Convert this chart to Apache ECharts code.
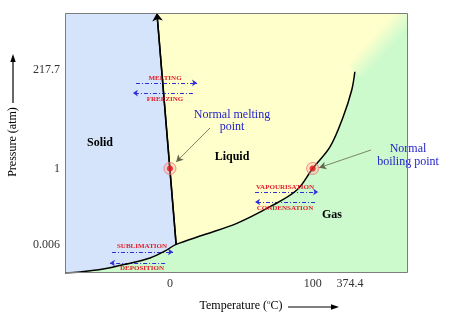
<!DOCTYPE html>
<html>
<head>
<meta charset="utf-8">
<script src="https://cdn.jsdelivr.net/npm/echarts@6/dist/echarts.min.js"></script>
<style>html,body{margin:0;padding:0;background:#fff}#c{width:450px;height:321px}</style>
</head>
<body>
<div id="c"></div>
<script>
// Schematic axes (0..100 in both directions), labelled with the real values
const xTickValues = [30.6, 72.2, 83.1];
const xTickLabels = ['0', '100', '374.4'];
const yTickValues = [11.0, 40.2, 78.1];
const yTickLabels = ['0.006', '1', '217.7'];

// Phase boundaries (schematic coordinates)
const sublimationCurve = [[0,0],[4.4,0.4],[11.1,1.5],[18.1,3.5],[24.8,5.8],[29.2,8.5],[32.4,11.0]];
const meltingCurve = [[32.4,11.0],[26.8,100]];
const vaporCurve = [[32.4,11.0],[40.3,14.6],[50.1,19.1],[59.8,25.5],[67.6,31.9],[72.2,40.2],[77.3,48.6],[81.1,60.1],[83.6,70.4],[84.5,77.4]];

// Normal melting / boiling points (P = 1 atm)
const normalPoints = [[30.6,40.2],[72.2,40.2]];

// Process arrows: [from, to]
const processNames = ['MELTING','FREEZING','SUBLIMATION','DEPOSITION','VAPOURISATION','CONDENSATION'];
const processFrom = [[20.7,73.1],[37.3,69.2],[13.7,8.1],[29.2,3.8],[55.4,31.2],[72.9,27.3]];
const processTo   = [[38.5,73.1],[19.8,69.2],[31.5,8.1],[13.1,3.8],[73.8,31.2],[55.4,27.3]];

// Annotation pointers: [from, to]
const pointerFrom = [[42.3,55.8],[89.2,47.3]];
const pointerTo   = [[32.4,42.7],[74.1,40.5]];

const SERIF = '"Liberation Serif","Times New Roman",serif';
const YELLOW = '#ffffcc', GREEN = '#ccfacc', BLUE = '#d5e4fa';

const chart = echarts.init(document.getElementById('c'), null, {renderer:'canvas'});

function renderRegions(params, api) {
  const c = p => api.coord(p);
  const bg = [[0,0],[100,0],[100,100],[0,100]].map(c);
  const solid = [[0,100], meltingCurve[1], meltingCurve[0]].concat(sublimationCurve.slice().reverse()).map(c);
  const gas = sublimationCurve.concat(vaporCurve.slice(1), [[100,100],[100,0]]).map(c);
  const E = c(vaporCurve[vaporCurve.length-1]);
  const K = c([100,100]);
  const dx = K[0]-E[0], dy = K[1]-E[1];
  const len = Math.sqrt(dx*dx+dy*dy);
  const n = [-dy/len, dx/len];
  const w = 11;
  const wedge = [
    [E[0]-w*n[0], E[1]-w*n[1]], [K[0]-w*n[0], K[1]-w*n[1]],
    [K[0]+w*n[0], K[1]+w*n[1]], [E[0]+w*n[0], E[1]+w*n[1]]
  ];
  const M = [(E[0]+K[0])/2, (E[1]+K[1])/2];
  return {
    type: 'group',
    children: [
      {type:'polygon', shape:{points:bg}, style:{fill:YELLOW}},
      {type:'polygon', shape:{points:gas}, style:{fill:GREEN}},
      {type:'polygon', shape:{points:wedge}, style:{fill:{
        type:'linear', global:true,
        x:M[0]-w*n[0], y:M[1]-w*n[1], x2:M[0]+w*n[0], y2:M[1]+w*n[1],
        colorStops:[{offset:0,color:YELLOW},{offset:1,color:GREEN}]}}},
      {type:'polygon', shape:{points:solid}, style:{fill:BLUE}}
    ]
  };
}

const processArrowData = processFrom.map((f,i) => [{coord:f, name:processNames[i]},{coord:processTo[i]}]);
const pointerData = pointerFrom.map((f,i) => [{coord:f},{coord:pointerTo[i]}]);

function txt(text, x, y, opts) {
  return Object.assign({type:'text', x:x, y:y, z:50, style:Object.assign({
    text:text, fontFamily:SERIF, fontSize:12, fill:'#000',
    textAlign:'center', textVerticalAlign:'middle'}, opts||{})});
}
const red = {fontSize:7, fontWeight:'bold', fill:'#e3202a'};

const option = {
  animation: false,
  grid: {left:65, top:13, right:42, bottom:48, show:false},
  xAxis: {
    type:'value', min:0, max:100,
    axisLine:{show:false}, splitLine:{show:false},
    axisTick:{show:true, inside:true, length:4, lineStyle:{color:'#aaa'}, customValues:xTickValues},
    axisLabel:{customValues:xTickValues, margin:5, fontFamily:SERIF, fontSize:12, color:'#333',
      formatter:v => xTickLabels[xTickValues.indexOf(v)]}
  },
  yAxis: {
    type:'value', min:0, max:100,
    axisLine:{show:false}, splitLine:{show:false},
    axisTick:{show:true, inside:true, length:3, lineStyle:{color:'#888'}, customValues:yTickValues},
    axisLabel:{customValues:yTickValues, margin:5, fontFamily:SERIF, fontSize:12, color:'#333',
      formatter:v => yTickLabels[yTickValues.indexOf(v)]}
  },
  series: [
    {type:'custom', renderItem:renderRegions, data:[[0,0]], clip:true, z:1, silent:true},
    // sublimation + vaporisation drawn as one continuous smooth curve through the triple point
    {type:'line', data:sublimationCurve.concat(vaporCurve.slice(1)), smooth:0.35, symbol:'none', z:5,
      lineStyle:{color:'#000', width:1.5}},
    {type:'line', data:meltingCurve, symbol:'none', z:5, lineStyle:{color:'#000', width:1.5},
      markLine:{silent:true, symbol:['none','arrow'], symbolSize:[8,8], label:{show:false},
        lineStyle:{color:'#000', width:1.5, type:'solid'},
        data:[[{coord:meltingCurve[0]},{coord:meltingCurve[1]}]]}},
    {type:'line', data:[], z:6,
      markLine:{silent:true, symbol:['none','arrow'], symbolSize:[5,5], label:{show:false},
        lineStyle:{color:'#2f2fd6', width:1.2, type:[4,2,1,2]},
        data:processArrowData}},
    {type:'line', data:[], z:6,
      markLine:{silent:true, symbol:['none','arrow'], symbolSize:[6,7], label:{show:false},
        lineStyle:{color:'#666650', width:0.8, type:'solid'},
        data:pointerData}},
    {type:'scatter', data:normalPoints, symbol:'circle', symbolSize:12, z:7,
      itemStyle:{color:'rgba(255,170,170,0.45)', borderColor:'#f07070', borderWidth:1}},
    {type:'scatter', data:normalPoints, symbol:'circle', symbolSize:6, z:8,
      itemStyle:{color:'#e01515'}}
  ],
  graphic: [
    {type:'rect', z:100, shape:{x:65.5, y:13.5, width:342, height:259},
      style:{fill:'none', stroke:'#7d7d7d', lineWidth:1}},
    txt('Solid', 100, 143, {fontWeight:'bold'}),
    txt('Liquid', 232, 157, {fontWeight:'bold'}),
    txt('Gas', 332, 215, {fontWeight:'bold'}),
    txt('Normal melting\npoint', 232, 121, {fill:'#2323c8', lineHeight:12}),
    txt('Normal\nboiling point', 408, 155, {fill:'#2323c8', lineHeight:13}),
    txt('MELTING', 165, 78, red),
    txt('FREEZING', 165, 99, red),
    txt('SUBLIMATION', 142, 246, red),
    txt('DEPOSITION', 142, 268, red),
    txt('VAPOURISATION', 285, 187, red),
    txt('CONDENSATION', 285, 208, red),
    {type:'text', x:13, y:142, rotation:Math.PI/2, z:50,
      style:{text:'Pressure (atm)', fontFamily:SERIF, fontSize:12, fill:'#000',
        textAlign:'center', textVerticalAlign:'middle'}},
    {type:'line', z:50, shape:{x1:13, y1:103, x2:13, y2:60}, style:{stroke:'#000', lineWidth:1.2}},
    {type:'polygon', z:50, shape:{points:[[13,54],[10.3,62],[15.7,62]]}, style:{fill:'#000'}},
    {type:'text', x:241, y:306, z:50,
      style:{text:'{a|Temperature (}{b|o}{a|C)}', textAlign:'center', textVerticalAlign:'middle',
        rich:{a:{fontFamily:SERIF, fontSize:12, lineHeight:14, fill:'#000'},
              b:{fontFamily:SERIF, fontSize:7, lineHeight:14, verticalAlign:'top', fill:'#000'}}}},
    {type:'line', z:50, shape:{x1:288, y1:307, x2:333, y2:307}, style:{stroke:'#000', lineWidth:1.2}},
    {type:'polygon', z:50, shape:{points:[[339,307],[331,304.3],[331,309.7]]}, style:{fill:'#000'}}
  ]
};
chart.setOption(option);
</script>
</body>
</html>
